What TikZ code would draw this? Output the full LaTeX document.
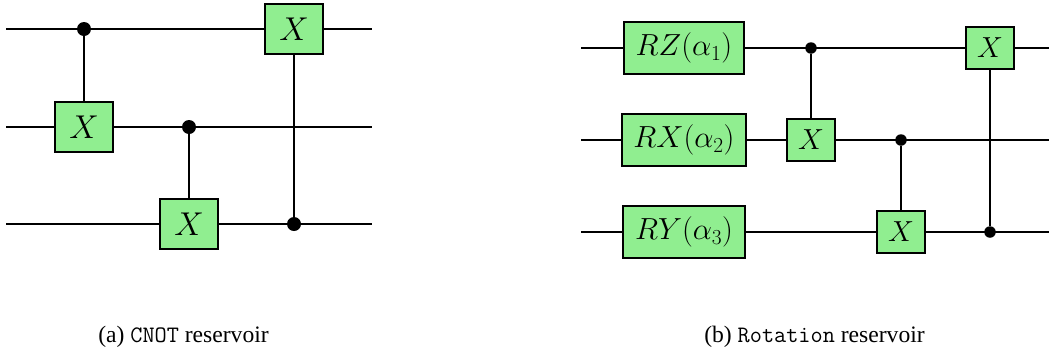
\RequirePackage{fix-cm}
\documentclass[tikz,border=0pt]{standalone}
\usepackage{fontspec}
\setmainfont{Liberation Serif}
\DeclareMathSizes{30.5}{30.5}{21.4}{15.2}
\tikzset{
  wireA/.style={line width=2.4pt,black},
  gateA/.style={draw=black,line width=2.4pt,fill=gatefill,inner sep=0pt,minimum width=58pt,minimum height=50pt,font=\fontsize{33}{36}\selectfont},
  gateB/.style={draw=black,line width=2.4pt,fill=gatefill,inner sep=0pt,minimum height=52pt,font=\fontsize{30.5}{33}\selectfont},
  gateC/.style={draw=black,line width=2.4pt,fill=gatefill,inner sep=0pt,minimum width=48pt,minimum height=42pt,font=\fontsize{29}{32}\selectfont},
  wireB/.style={line width=2.4pt,black},
  dotA/.style={circle,fill=black,inner sep=0pt,minimum size=14pt},
  dotB/.style={circle,fill=black,inner sep=0pt,minimum size=11.5pt},
  captext/.style={font=\fontsize{23.6}{26}\selectfont,inner sep=0pt,anchor=base}
}
\definecolor{gatefill}{HTML}{90EE90}
\begin{document}
\begin{tikzpicture}[x=1pt,y=-1pt]
\useasboundingbox (0,0) rectangle (1049,354);
% left circuit
\coordinate (al) at (6,29); \coordinate (ar) at (372,29);
\coordinate (bl) at (6,127); \coordinate (br) at (372,127);
\coordinate (cl) at (6,224); \coordinate (cr) at (372,224);
\draw[wireA] (al) -- (ar);
\draw[wireA] (bl) -- (br);
\draw[wireA] (cl) -- (cr);
\node[gateA] (x1) at (84,127) {$X$};
\node[gateA] (x2) at (189,224) {$X$};
\node[gateA] (x3) at (294,29) {$X$};
\node[dotA] (d1) at (84,29) {};
\node[dotA] (d2) at (189,127) {};
\node[dotA] (d3) at (294,224) {};
\draw[wireA] (d1) -- (x1);
\draw[wireA] (d2) -- (x2);
\draw[wireA] (d3) -- (x3);
% right circuit
\coordinate (pl) at (581,48); \coordinate (pr) at (1049,48);
\coordinate (ql) at (581,140); \coordinate (qr) at (1049,140);
\coordinate (rl) at (581,232); \coordinate (rr) at (1049,232);
\draw[wireB] (pl) -- (pr);
\draw[wireB] (ql) -- (qr);
\draw[wireB] (rl) -- (rr);
\node[gateB,minimum width=120pt] (rz) at (684,48) {$RZ(\alpha_1)$};
\node[gateB,minimum width=124pt] (rx) at (684,140) {$RX(\alpha_2)$};
\node[gateB,minimum width=122pt] (ry) at (684,232) {$RY(\alpha_3)$};
\node[gateC] (y1) at (811,140) {$X$};
\node[gateC] (y2) at (901,232) {$X$};
\node[gateC] (y3) at (990,48) {$X$};
\node[dotB] (e1) at (811,48) {};
\node[dotB] (e2) at (901,140) {};
\node[dotB] (e3) at (990,232) {};
\draw[wireB] (e1) -- (y1);
\draw[wireB] (e2) -- (y2);
\draw[wireB] (e3) -- (y3);
% captions
\node[captext] (capa) at (183.5,342.5) {(a) {\ttfamily CNOT} reservoir};
\node[captext] (capb) at (814.5,342.5) {(b) {\ttfamily Rotation} reservoir};
\end{tikzpicture}
\end{document}
